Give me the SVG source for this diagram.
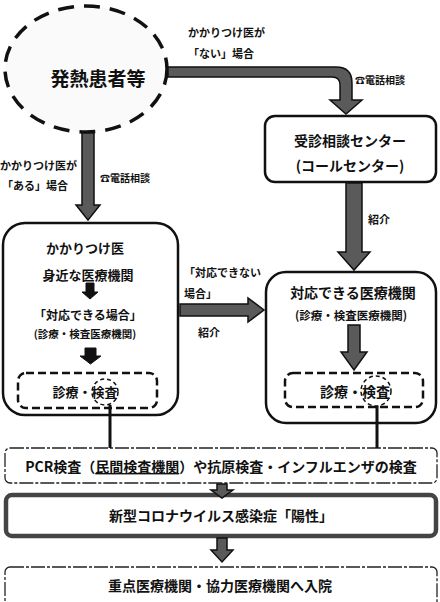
<svg xmlns="http://www.w3.org/2000/svg" width="440" height="602" viewBox="0 0 440 602">
<style>
text{font-family:"Noto Sans CJK JP","Noto Sans",sans-serif;font-weight:bold;fill:#111;text-anchor:middle}
.s{text-anchor:start}
.box{fill:#fff;stroke:#111;stroke-width:2.5}
.dbox{fill:none;stroke:#111;stroke-width:2.5;stroke-dasharray:8 4}
.arr{fill:#5a5a5a;stroke:#111;stroke-width:1.5}
.barr{fill:#111;stroke:#111;stroke-width:1}
.ln{stroke:#111;stroke-width:3;fill:none}
</style>
<g id="patient">
<ellipse cx="86" cy="69" rx="81" ry="63" fill="#fafafa" stroke="#111" stroke-width="3.5" stroke-dasharray="16 10"/>
<text x="98" y="86" font-size="19">発熱患者等</text>
</g>
<g id="callcenter">
<rect class="box" x="265" y="116" width="171" height="66" rx="10"/>
<text x="350" y="146" font-size="14">受診相談センター</text>
<text x="350" y="171" font-size="14">(コールセンター)</text>
</g>
<g id="clinic">
<rect class="box" x="3" y="223" width="175" height="192" rx="22"/>
<text x="85" y="253" font-size="13">かかりつけ医</text>
<text x="88" y="280" font-size="13">身近な医療機関</text>
<path class="barr" d="M86,283 H94 V292 H98 L90,299 L82,292 H86 Z"/>
<text x="88" y="320" font-size="12">「対応できる場合」</text>
<text x="85" y="338" font-size="10.5">(診療・検査医療機関)</text>
<path class="barr" d="M85,348 H96 V356 H101 L90.5,364 L80,356 H85 Z"/>
<rect class="dbox" x="18" y="373" width="139" height="35" rx="8"/>
<circle cx="105" cy="392" r="13" fill="none" stroke="#111" stroke-width="1.5" stroke-dasharray="4 3"/>
<text x="85" y="397" font-size="13">診療・検査</text>
</g>
<g id="hospital">
<rect class="box" x="266" y="272" width="170" height="151" rx="20"/>
<text x="353" y="298" font-size="14">対応できる医療機関</text>
<text x="351" y="320" font-size="11.5">(診療・検査医療機関)</text>
<path class="arr" d="M348,325 H360 V352 H367 L354,370 L341,352 H348 Z"/>
<rect class="dbox" x="285" y="373" width="138" height="34" rx="8"/>
<circle cx="376" cy="391" r="15" fill="none" stroke="#111" stroke-width="1.5" stroke-dasharray="4 3"/>
<text x="355" y="397" font-size="14">診療・検査</text>
</g>
<g id="pcr">
<rect x="5" y="448" width="432" height="35" rx="5" fill="#fff" stroke="#222" stroke-width="1.3" stroke-dasharray="14 2 3 2"/>
<text x="221" y="472" font-size="14">PCR検査（<tspan text-decoration="underline">民間検査機関</tspan>）や抗原検査・インフルエンザの検査</text>
</g>
<g id="positive">
<rect x="6" y="495" width="430" height="41" rx="6" fill="#fff" stroke="#444" stroke-width="4.5"/>
<text x="221" y="521" font-size="14">新型コロナウイルス感染症「陽性」</text>
</g>
<g id="admission">
<rect x="5" y="567" width="432" height="40" rx="5" fill="#fff" stroke="#222" stroke-width="1.3" stroke-dasharray="14 2 3 2"/>
<text x="220" y="591" font-size="14">重点医療機関・協力医療機関へ入院</text>
</g>
<g id="connectors">
<path class="arr" d="M168,67 H336 Q352,67 352,83 V100 H362 L346,114 L330,100 H340 V85 Q340,77 332,77 H168 Z"/>
<path class="arr" d="M82,133 H94 V205 H100 L88,220 L76,205 H82 Z"/>
<path class="arr" d="M346,183 H362 V252 H370 L354,270 L338,252 H346 Z"/>
<path class="arr" d="M180,304 H248 V298 L264,310 L248,322 V316 H180 Z"/>
<line class="ln" x1="110" y1="405" x2="110" y2="448" stroke-width="2.5"/>
<line class="ln" x1="377" y1="406" x2="377" y2="448"/>
<path class="arr" d="M217,484 H227 V490 H233 L222,498 L211,490 H217 Z"/>
<path class="arr" d="M217,538 H227 V550 H233 L222,562 L211,550 H217 Z"/>
<text class="s" x="188" y="37" font-size="11">かかりつけ医が</text>
<text class="s" x="188" y="58" font-size="11">「ない」場合</text>
<text class="s" x="355" y="84" font-size="10">☎電話相談</text>
<text class="s" x="0" y="170" font-size="11">かかりつけ医が</text>
<text class="s" x="2" y="190" font-size="11">「ある」場合</text>
<text class="s" x="100" y="182" font-size="10">☎電話相談</text>
<text class="s" x="368" y="224" font-size="11">紹介</text>
<text class="s" x="184" y="277" font-size="11">「対応できない</text>
<text class="s" x="184" y="298" font-size="11">場合」</text>
<text class="s" x="198" y="337" font-size="11">紹介</text>
</g>
</svg>
